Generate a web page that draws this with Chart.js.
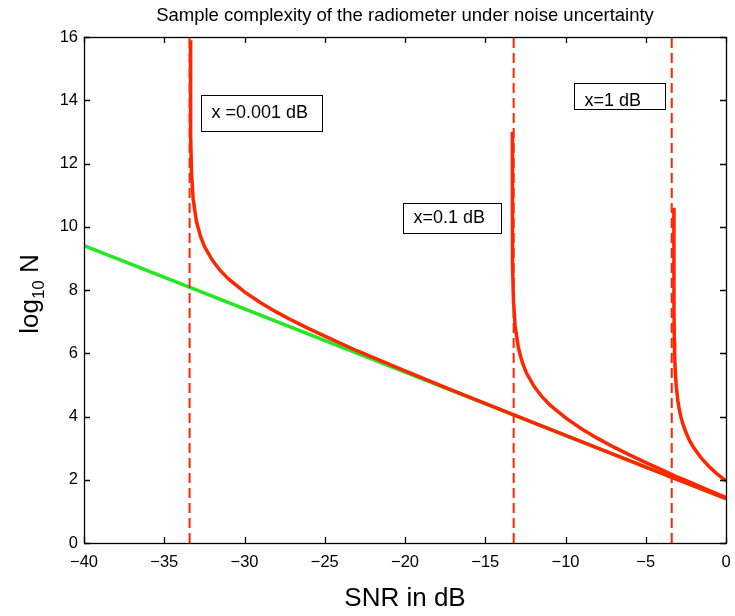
<!DOCTYPE html>
<html>
<head>
<meta charset="utf-8">
<title>Sample complexity of the radiometer under noise uncertainty</title>
<script src="https://cdn.jsdelivr.net/npm/chart.js@4.4.0/dist/chart.umd.min.js"></script>
<style>
  html, body { margin: 0; padding: 0; background: #fff; }
</style>
</head>
<body>
<canvas id="chart" width="735" height="616"></canvas>
<script>
// ---- data ----
// no uncertainty (green)
const snrIdeal = [-40, -30, -20, -10, 0];
const logNIdeal = [9.4, 7.4, 5.4, 3.4, 1.4];

// x = 0.001 dB
const snrA = [-33.367, -33.36, -33.35, -33.3, -33.2, -33.0, -32.75, -32.5, -32, -31.5, -31, -30, -29, -28, -27, -26, -25, -23, -20, -17, -14, -10, -5, 0];
const logNA = [15.9, 13.6, 12.86, 11.68, 10.88, 10.18, 9.71, 9.38, 8.94, 8.61, 8.35, 7.94, 7.60, 7.30, 7.03, 6.78, 6.54, 6.08, 5.44, 4.82, 4.21, 3.40, 2.40, 1.40];

// x = 0.1 dB
const snrB = [-13.31, -13.309, -13.303, -13.293, -13.243, -13.14, -12.94, -12.69, -12.44, -11.94, -11.44, -10.94, -9.95, -8.96, -7.97, -6.98, -5.98, -4.99, -3.99, -3, -2, -1, 0];
const logNB = [13.0, 10.9, 9.57, 8.85, 7.68, 6.88, 6.18, 5.71, 5.38, 4.94, 4.61, 4.35, 3.94, 3.60, 3.30, 3.03, 2.78, 2.54, 2.31, 2.08, 1.87, 1.65, 1.44];

// x = 1 dB
const snrC = [-3.249, -3.245, -3.24, -3.22, -3.2, -3.15, -3.1, -3.0, -2.9, -2.8, -2.65, -2.5, -2.25, -2, -1.5, -1, -0.5, 0];
const logNC = [10.6, 7.92, 7.33, 6.37, 5.92, 5.32, 4.96, 4.50, 4.20, 3.97, 3.71, 3.50, 3.22, 3.00, 2.66, 2.39, 2.16, 1.96];

// SNR walls (dashed)
const wallSnr = [-33.42, -13.23, -3.38];
const wallSpan = [0, 16];

const boxLabels = ['x =0.001 dB', 'x=0.1 dB', 'x=1 dB'];

const RED = 'rgb(255, 38, 0)';
const GREEN = 'rgb(34, 232, 34)';
const FONT = "'Liberation Sans', Arial, Helvetica, sans-serif";

Chart.defaults.font.family = FONT;
Chart.defaults.color = '#000';

function toPoints(xs, ys) {
    return xs.map((x, i) => ({ x: x, y: ys[i] }));
}

const datasets = [];

[[snrA, logNA], [snrB, logNB], [snrC, logNC]].forEach(pair => {
    datasets.push({
        data: toPoints(pair[0], pair[1]),
        borderColor: RED,
        borderWidth: 3.5,
        pointRadius: 0,
        showLine: true,
        order: 1
    });
});

wallSnr.forEach(w => {
    datasets.push({
        data: wallSpan.map(v => ({ x: w, y: v })),
        borderColor: RED,
        borderWidth: 2,
        borderDash: [10, 5],
        pointRadius: 0,
        showLine: true,
        order: 2
    });
});

datasets.push({
    data: toPoints(snrIdeal, logNIdeal),
    borderColor: GREEN,
    borderWidth: 3.5,
    pointRadius: 0,
    showLine: true,
    order: 3
});

// box, inward ticks, y label with subscript
const framePlugin = {
    id: 'frame',
    afterDraw(chart) {
        const { ctx, chartArea: a, scales: { x, y } } = chart;
        ctx.save();
        ctx.strokeStyle = '#000';
        ctx.lineWidth = 1.3;
        ctx.beginPath();
        x.ticks.forEach(t => {
            const px = Math.round(x.getPixelForValue(t.value)) + 0.5;
            ctx.moveTo(px, a.bottom); ctx.lineTo(px, a.bottom - 6);
            ctx.moveTo(px, a.top); ctx.lineTo(px, a.top + 6);
        });
        y.ticks.forEach(t => {
            const py = Math.round(y.getPixelForValue(t.value)) + 0.5;
            ctx.moveTo(a.left, py); ctx.lineTo(a.left + 6, py);
            ctx.moveTo(a.right, py); ctx.lineTo(a.right - 6, py);
        });
        ctx.stroke();
        ctx.strokeRect(a.left + 0.5, a.top + 0.5, a.right - a.left, a.bottom - a.top);

        // y axis title: log10 N
        ctx.translate(38, (a.top + a.bottom) / 2 + 4);
        ctx.rotate(-Math.PI / 2);
        ctx.fillStyle = '#000';
        ctx.textBaseline = 'alphabetic';
        ctx.textAlign = 'left';
        const big = '26px ' + FONT, small = '17px ' + FONT;
        ctx.font = big; const w1 = ctx.measureText('log').width;
        ctx.font = small; const w2 = ctx.measureText('10').width;
        ctx.font = big; const w3 = ctx.measureText(' N').width;
        let cx = -(w1 + w2 + w3) / 2;
        ctx.font = big; ctx.fillText('log', cx, 0); cx += w1;
        ctx.font = small; ctx.fillText('10', cx, 6); cx += w2;
        ctx.font = big; ctx.fillText(' N', cx, 0);
        ctx.restore();
    }
};

// text boxes placed in data coordinates
const boxPlugin = {
    id: 'boxes',
    afterDatasetsDraw(chart) {
        const { ctx, scales: { x, y } } = chart;
        const spots = [
            { left: -32.71, right: -25.17, top: 14.18, bottom: 13.02, pad: 10, dy: 0 },
            { left: -20.11, right: -14.04, top: 10.75, bottom: 9.80, pad: 10, dy: 0 },
            { left: -9.45, right: -3.80, top: 14.55, bottom: 13.72, pad: 10, dy: 5 }
        ];
        ctx.save();
        ctx.font = '18px ' + FONT;
        ctx.textBaseline = 'middle';
        ctx.textAlign = 'left';
        spots.forEach((s, i) => {
            const l = Math.round(x.getPixelForValue(s.left)) + 0.5;
            const r = Math.round(x.getPixelForValue(s.right)) + 0.5;
            const t = Math.round(y.getPixelForValue(s.top)) + 0.5;
            const b = Math.round(y.getPixelForValue(s.bottom)) + 0.5;
            ctx.fillStyle = '#fff';
            ctx.fillRect(l, t, r - l, b - t);
            ctx.strokeStyle = '#000';
            ctx.lineWidth = 1;
            ctx.strokeRect(l, t, r - l, b - t);
            ctx.fillStyle = '#000';
            ctx.fillText(boxLabels[i], l + s.pad, (t + b) / 2 + s.dy);
        });
        ctx.restore();
    }
};

new Chart(document.getElementById('chart'), {
    type: 'scatter',
    data: { datasets: datasets },
    options: {
        responsive: false,
        animation: false,
        layout: { padding: { right: 9, left: 0, top: 0, bottom: 0 } },
        plugins: {
            legend: { display: false },
            tooltip: { enabled: false },
            title: {
                display: true,
                fullSize: false,
                text: 'Sample complexity of the radiometer under noise uncertainty',
                font: { size: 18.5, weight: 'normal' },
                color: '#000',
                padding: { top: 5, bottom: 9.8 }
            }
        },
        scales: {
            x: {
                type: 'linear',
                min: -40,
                max: 0,
                border: { display: false },
                grid: { display: false, drawTicks: false, tickLength: 0 },
                ticks: {
                    stepSize: 5,
                    padding: 10,
                    font: { size: 16.5 },
                    color: '#000',
                    maxRotation: 0,
                    callback: v => (v < 0 ? '\u2212' + Math.abs(v) : String(v))
                },
                title: {
                    display: true,
                    text: 'SNR in dB',
                    font: { size: 26 },
                    color: '#000',
                    padding: { top: 0, bottom: 2 }
                },
                afterFit: s => {
                    s.height = 73;
                    s.paddingLeft = 0;
                    s.paddingRight = 0;
                }
            },
            y: {
                type: 'linear',
                min: 0,
                max: 16,
                border: { display: false },
                grid: { display: false, drawTicks: false, tickLength: 0 },
                ticks: {
                    stepSize: 2,
                    padding: 6,
                    font: { size: 16.5 },
                    color: '#000'
                },
                afterFit: s => { s.width = 84; }
            }
        }
    },
    plugins: [framePlugin, boxPlugin]
});
</script>
</body>
</html>
